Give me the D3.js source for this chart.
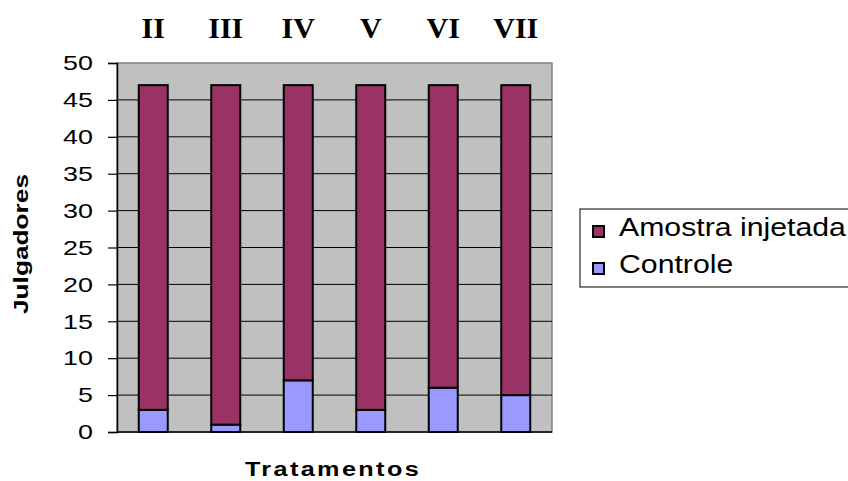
<!DOCTYPE html>
<html>
<head>
<meta charset="utf-8">
<script src="https://cdn.jsdelivr.net/npm/d3@7"></script>
<style>
  body { margin: 0; background: #fff; }
  svg { display: block; font-family: "Liberation Sans", Arial, sans-serif; }
</style>
</head>
<body>
<div id="chart"></div>
<script>
// data
var tratamentos = ["II", "III", "IV", "V", "VI", "VII"];
var controle = [3, 1, 7, 3, 6, 5];
var amostra = [44, 46, 40, 44, 41, 42];
var yTicks = [0, 5, 10, 15, 20, 25, 30, 35, 40, 45, 50];
var seriesNames = ["Amostra injetada", "Controle"];
var seriesColors = ["#993366", "#9999ff"];

var W = 848, H = 481;
var plot = {left: 117, right: 552, top: 63, bottom: 432};

var svg = d3.select("#chart").append("svg").attr("width", W).attr("height", H);

var x = d3.scaleBand().domain(tratamentos).range([plot.left, plot.right]).paddingInner(0.6).paddingOuter(0.3);
var y = d3.scaleLinear().domain([0, 50]).range([plot.bottom, plot.top]);

// the old excel text is drawn wide, so stretch it sideways
function wideText(g, px, py, sx, txt){
  return g.append("text")
    .attr("transform", "translate(" + px + "," + py + ") scale(" + sx + ",1)")
    .text(txt);
}

// plot background
svg.append("rect")
  .attr("x", plot.left).attr("y", plot.top)
  .attr("width", plot.right - plot.left).attr("height", plot.bottom - plot.top)
  .attr("fill", "#c0c0c0").attr("stroke", "#808080").attr("stroke-width", 1.5);

// gridlines
svg.append("g").selectAll("line").data(yTicks.filter(function(d){return d > 0 && d < 50;})).enter()
  .append("line")
  .attr("x1", plot.left).attr("x2", plot.right)
  .attr("y1", function(d){return y(d);}).attr("y2", function(d){return y(d);})
  .attr("stroke", "#000").attr("stroke-width", 1);

// y axis
var yAxis = svg.append("g").attr("transform", "translate(" + plot.left + ",0)")
  .call(d3.axisLeft(y).tickValues(yTicks).tickSize(9).tickPadding(6));
yAxis.select(".domain").attr("stroke", "#000").attr("stroke-width", 1.5);
yAxis.selectAll(".tick line").attr("stroke", "#000").attr("stroke-width", 1.2);
yAxis.selectAll("text").attr("font-size", "21px").attr("fill", "#000")
  .attr("font-family", "Liberation Sans, Arial, sans-serif")
  .attr("x", -24 / 1.28)
  .attr("transform", "scale(1.28,1)");

// x baseline
svg.append("line").attr("x1", plot.left).attr("x2", plot.right)
  .attr("y1", plot.bottom).attr("y2", plot.bottom)
  .attr("stroke", "#000").attr("stroke-width", 1.5);

// stacked bars
var rows = tratamentos.map(function(t, i){ return {t: t, controle: controle[i], amostra: amostra[i]}; });
var stack = d3.stack().keys(["controle", "amostra"])(rows);
var colorOf = {controle: seriesColors[1], amostra: seriesColors[0]};

svg.append("g").selectAll("g").data(stack).enter().append("g")
  .attr("fill", function(s){return colorOf[s.key];})
  .selectAll("rect").data(function(s){return s;}).enter().append("rect")
  .attr("x", function(d){return x(d.data.t);})
  .attr("width", x.bandwidth())
  .attr("y", function(d){return y(d[1]);})
  .attr("height", function(d){return y(d[0]) - y(d[1]);})
  .attr("stroke", "#000").attr("stroke-width", 2);

// roman numeral labels above
svg.append("g").selectAll("text").data(tratamentos).enter().append("text")
  .attr("x", function(d){return x(d) + x.bandwidth() / 2;})
  .attr("y", 38)
  .attr("text-anchor", "middle")
  .attr("font-family", "Liberation Serif, Times New Roman, serif")
  .attr("font-weight", "bold").attr("font-size", "30px")
  .text(function(d){return d;});

// axis titles
svg.append("text")
  .attr("transform", "translate(28,244) rotate(-90) scale(1.25,1)")
  .attr("text-anchor", "middle").attr("font-weight", "bold").attr("font-size", "21px")
  .text("Julgadores");

wideText(svg, 333, 476, 1.2, "Tratamentos")
  .attr("text-anchor", "middle").attr("font-weight", "bold").attr("font-size", "21px")
  .attr("letter-spacing", "2px");

// legend
var legend = svg.append("g");
legend.append("rect").attr("x", 580).attr("y", 209).attr("width", 290).attr("height", 78)
  .attr("fill", "#fff").attr("stroke", "#000").attr("stroke-width", 1);
var items = legend.selectAll("g.item").data(seriesNames).enter().append("g").attr("class", "item")
  .attr("transform", function(d, i){return "translate(0," + (i * 37) + ")";});
items.append("rect").attr("x", 593).attr("y", 226).attr("width", 11).attr("height", 11)
  .attr("fill", function(d, i){return seriesColors[i];})
  .attr("stroke", "#000").attr("stroke-width", 2);
items.each(function(d){
  wideText(d3.select(this), 619, 236, 1.21, d).attr("font-size", "25px");
});
</script>
</body>
</html>
